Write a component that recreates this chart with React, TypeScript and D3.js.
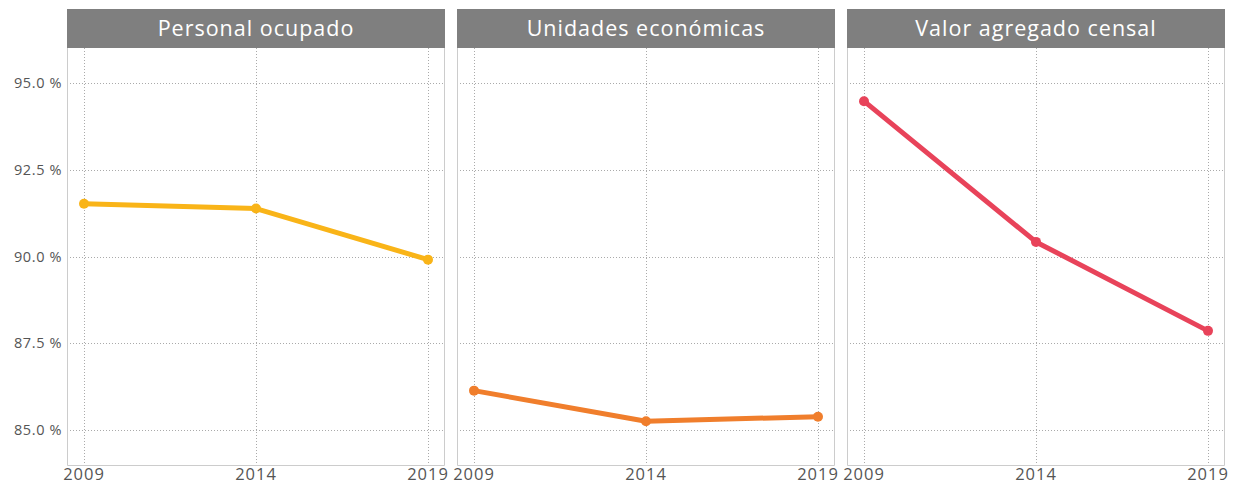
import { useEffect, useRef } from 'react';
import * as d3 from 'd3';

const years = [2009, 2014, 2019];
const panels = ['Personal ocupado', 'Unidades económicas', 'Valor agregado censal'];
const colors = ['#f9b418', '#f07e2c', '#e8435a'];
const personalOcupado = [91.52, 91.38, 89.91];
const unidadesEconomicas = [86.14, 85.26, 85.39];
const valorAgregado = [94.47, 90.42, 87.86];
const yTicks = [85, 87.5, 90, 92.5, 95];

const series = [personalOcupado, unidadesEconomicas, valorAgregado];

export default function App() {
  const ref = useRef<SVGSVGElement | null>(null);

  useEffect(() => {
    const svg = d3.select(ref.current);
    svg.selectAll('*').remove();

    const width = 1243;
    const height = 487;
    const panelX = [67, 457, 847];
    const panelW = 378;
    const headerTop = 9;
    const headerH = 39;
    const plotTop = headerTop + headerH;
    const plotBottom = 465;
    const font = "'Open Sans', 'Noto Sans', sans-serif";

    svg.attr('width', width).attr('height', height);

    const y = d3.scaleLinear().domain([84.0, 96.0]).range([plotBottom, plotTop]);

    // y labels on the left
    svg.append('g')
      .selectAll('text')
      .data(yTicks)
      .join('text')
      .attr('x', 62)
      .attr('y', d => y(d))
      .attr('dy', '0.35em')
      .attr('text-anchor', 'end')
      .attr('fill', '#555')
      .style('font-family', font)
      .style('font-size', '14.5px')
      .style('letter-spacing', '0.6px')
      .text(d => `${d.toFixed(1)} %`);

    panels.forEach((name, i) => {
      const x0 = panelX[i];
      const x = d3.scalePoint<number>()
        .domain(years)
        .range([x0 + 17, x0 + panelW - 17]);

      const g = svg.append('g');

      // header
      g.append('rect')
        .attr('x', x0)
        .attr('y', headerTop)
        .attr('width', panelW)
        .attr('height', headerH)
        .attr('fill', '#7f7f7f');
      g.append('text')
        .attr('x', x0 + panelW / 2)
        .attr('y', headerTop + headerH / 2)
        .attr('dy', '0.35em')
        .attr('text-anchor', 'middle')
        .attr('fill', '#fff')
        .style('font-family', font)
        .style('font-size', '21.5px')
        .style('letter-spacing', '1px')
        .text(name);

      // grid
      g.append('g')
        .selectAll('line')
        .data(yTicks)
        .join('line')
        .attr('x1', x0)
        .attr('x2', x0 + panelW)
        .attr('y1', d => Math.round(y(d)) + 0.5)
        .attr('y2', d => Math.round(y(d)) + 0.5)
        .attr('stroke', '#aaa')
        .attr('stroke-width', 1)
        .attr('stroke-dasharray', '1,2');
      g.append('g')
        .selectAll('line')
        .data(years)
        .join('line')
        .attr('x1', d => Math.round(x(d)!) + 0.5)
        .attr('x2', d => Math.round(x(d)!) + 0.5)
        .attr('y1', plotTop)
        .attr('y2', plotBottom)
        .attr('stroke', '#aaa')
        .attr('stroke-width', 1)
        .attr('stroke-dasharray', '1,2');

      // borders
      g.append('path')
        .attr('d', `M${x0 + 0.5},${plotTop}V${plotBottom + 0.5}H${x0 + panelW - 0.5}V${plotTop}`)
        .attr('fill', 'none')
        .attr('stroke', '#ccc')
        .attr('stroke-width', 1);

      // x labels
      g.append('g')
        .selectAll('text')
        .data(years)
        .join('text')
        .attr('x', d => x(d)!)
        .attr('y', 480)
        .attr('text-anchor', 'middle')
        .attr('fill', '#555')
        .style('font-family', font)
        .style('font-size', '16.5px')
        .style('letter-spacing', '1px')
        .text(d => d);

      const pts = years.map((yr, j) => ({ yr, v: series[i][j] }));
      const line = d3.line<{ yr: number; v: number }>()
        .x(d => x(d.yr)!)
        .y(d => y(d.v));

      g.append('path')
        .datum(pts)
        .attr('fill', 'none')
        .attr('stroke', colors[i])
        .attr('stroke-width', 5)
        .attr('stroke-linejoin', 'round')
        .attr('d', line);

      g.append('g')
        .selectAll('circle')
        .data(pts)
        .join('circle')
        .attr('cx', d => x(d.yr)!)
        .attr('cy', d => y(d.v))
        .attr('r', 5)
        .attr('fill', colors[i]);
    });
  }, []);

  return <svg ref={ref} style={{ display: 'block', position: 'absolute', left: 0, top: 0 }} />;
}
